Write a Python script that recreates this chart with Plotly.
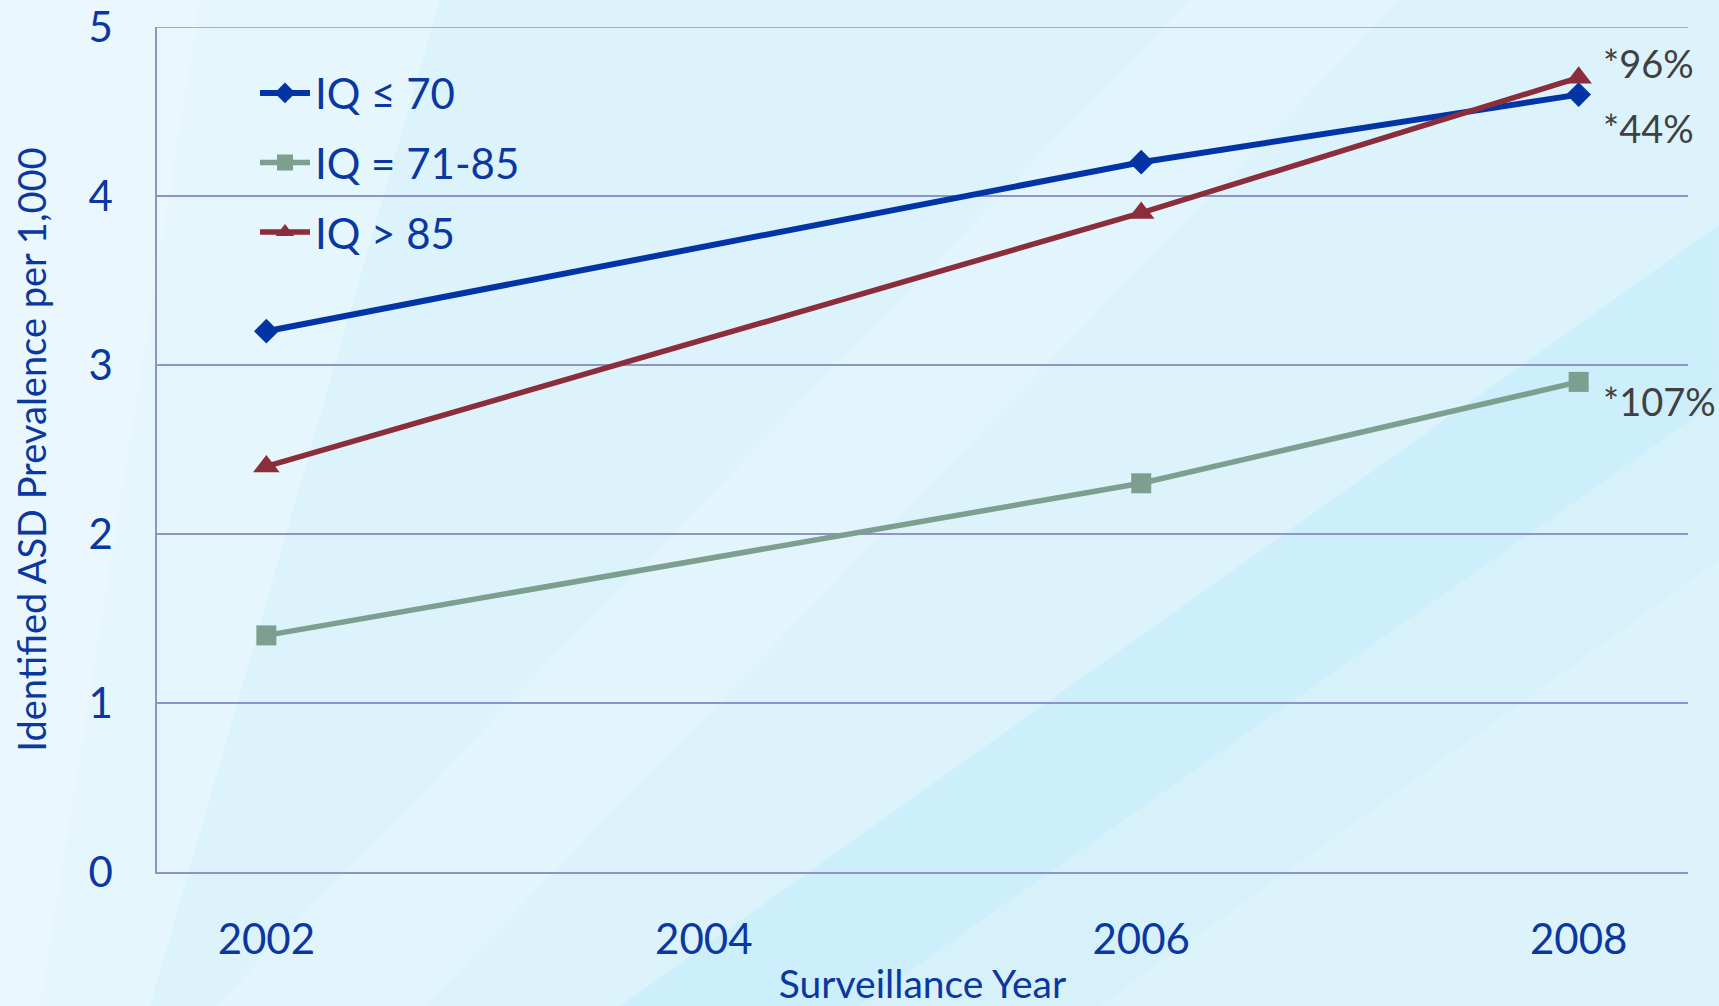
import plotly.graph_objects as go

# Surveillance years and identified ASD prevalence (per 1,000) by IQ group
years = [2002, 2006, 2008]
iq_le_70 = [3.2, 4.2, 4.6]
iq_71_85 = [1.4, 2.3, 2.9]
iq_gt_85 = [2.4, 3.9, 4.7]

series_names = ["IQ \u2264 70", "IQ = 71-85", "IQ > 85"]
change_labels = ["*44%", "*107%", "*96%"]
tick_years = [2002, 2004, 2006, 2008]
tick_prev = [0, 1, 2, 3, 4, 5]

W, H = 1719, 1006
L, R, T, B = 157, 31, 27, 134

BLUE_TEXT = "#0A37A0"
FONT = "Lato"

fig = go.Figure()

styles = [
    dict(color="#0334A6", symbol="diamond", size=19, width=6),
    dict(color="#7C9F90", symbol="square", size=20, width=5.5),
    dict(color="#8B2D3A", symbol="triangle-up", size=23, width=5.5),
]
values = [iq_le_70, iq_71_85, iq_gt_85]

for name, vals, st in zip(series_names, values, styles):
    fig.add_trace(go.Scatter(
        x=years, y=vals, name=name, mode="lines+markers",
        line=dict(color=st["color"], width=st["width"]),
        marker=dict(symbol=st["symbol"], size=st["size"], color=st["color"],
                    line=dict(width=0)),
        legendgroup=name,
    ))

# Percent-change labels at the last survey year
label_offsets = [-33, -19, 15]  # vertical pixel shifts for each series label
for vals, lab, dy in zip(values, change_labels, label_offsets):
    fig.add_annotation(
        x=years[-1], y=vals[-1], xref="x", yref="y", text=lab,
        showarrow=False, xanchor="left", yanchor="middle",
        xshift=22, yshift=dy,
        font=dict(family=FONT, size=38, color="#404040"),
    )


def px_poly(points):
    """Build an SVG path in paper coordinates from full-figure pixel points."""
    pw, ph = W - L - R, H - T - B
    parts = []
    for i, (px, py) in enumerate(points):
        xf = (px - L) / pw
        yf = 1 - (py - T) / ph
        parts.append(("M" if i == 0 else "L") + f"{xf:.4f},{yf:.4f}")
    return " ".join(parts) + " Z"


# Soft light streaks in the backdrop
bg_shapes = [
    ([(0, 0), (440, 0), (150, 1006), (0, 1006)], "rgba(255,255,255,0.28)"),
    ([(0, 0), (200, 0), (40, 1006), (0, 1006)], "rgba(255,255,255,0.22)"),
    ([(1190, 0), (1400, 0), (424, 1006), (216, 1006)], "rgba(255,255,255,0.22)"),
    ([(620, 1006), (1719, 225), (1719, 400), (860, 1006)], "rgba(170,228,248,0.28)"),
    ([(860, 1006), (1719, 400), (1719, 560), (1100, 1006)], "rgba(185,233,250,0.14)"),
]
shapes = []
for pts, col in bg_shapes:
    shapes.append(dict(type="path", xref="paper", yref="paper", path=px_poly(pts),
                       fillcolor=col, line=dict(width=0), layer="below"))

GRID = "#8C94C8"

# Top border line at the maximum of the value axis
shapes.append(dict(type="line", xref="paper", yref="y", x0=0, x1=1,
                   y0=tick_prev[-1], y1=tick_prev[-1],
                   line=dict(color=GRID, width=1.5), layer="below"))

fig.update_layout(
    width=W, height=H,
    margin=dict(l=L, r=R, t=T, b=B, autoexpand=False),
    paper_bgcolor="#DCF3FC",
    plot_bgcolor="rgba(0,0,0,0)",
    shapes=shapes,
    showlegend=True,
    legend=dict(
        x=0.064, y=0.962, xanchor="left", yanchor="top",
        bgcolor="rgba(0,0,0,0)",
        font=dict(family=FONT, size=42, color=BLUE_TEXT),
        tracegroupgap=12, itemwidth=50,
    ),
    xaxis=dict(
        range=[2001.5, 2008.5], tickmode="array", tickvals=tick_years,
        ticktext=[str(t) for t in tick_years],
        tickfont=dict(family=FONT, size=42, color=BLUE_TEXT),
        ticks="outside", ticklen=30, tickcolor="rgba(0,0,0,0)",
        showgrid=False, zeroline=False, automargin=False,
        showline=True, linecolor=GRID, linewidth=1.5,
        title=dict(text="Surveillance Year", standoff=24,
                   font=dict(family=FONT, size=39, color=BLUE_TEXT)),
        fixedrange=True,
    ),
    yaxis=dict(
        range=[0, 5], tickmode="array", tickvals=tick_prev,
        tickfont=dict(family=FONT, size=42, color=BLUE_TEXT),
        ticks="outside", ticklen=34, tickcolor="rgba(0,0,0,0)",
        showgrid=True, gridcolor=GRID, gridwidth=1.5,
        zeroline=False, showline=True, linecolor=GRID, linewidth=1.5,
        automargin=False,
        title=dict(text="Identified ASD Prevalence per 1,000", standoff=30,
                   font=dict(family=FONT, size=38, color=BLUE_TEXT)),
        fixedrange=True,
    ),
)

fig.write_html("out.html")
